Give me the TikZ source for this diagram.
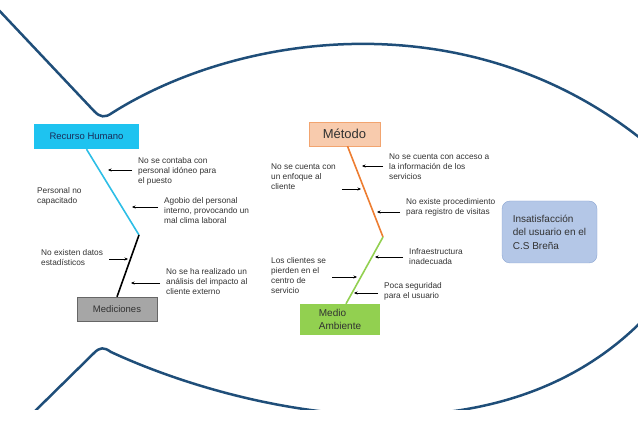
\documentclass[tikz,border=0pt]{standalone}
\usepackage{fontspec}
\setmainfont{Liberation Sans}
\usetikzlibrary{positioning,arrows.meta}

\definecolor{fishblue}{RGB}{31,78,121}
\definecolor{rhcyan}{RGB}{30,195,240}
\definecolor{rhline}{RGB}{45,190,230}
\definecolor{rhtext}{RGB}{25,45,90}
\definecolor{metfill}{RGB}{248,203,173}
\definecolor{metline}{RGB}{237,125,49}
\definecolor{mafill}{RGB}{146,208,80}
\definecolor{medfill}{RGB}{166,166,166}
\definecolor{goalfill}{RGB}{180,199,231}
\definecolor{goalline}{RGB}{140,165,210}
\definecolor{labeltext}{RGB}{50,50,50}

\begin{document}
\begin{tikzpicture}[x=1pt,y=-1pt,
  fish/.style={draw=fishblue,line width=2.5pt},
  cat/.style={rectangle,inner sep=0pt,text=labeltext,font=\fontsize{9.5}{11}\selectfont},
  cause/.style={align=left,anchor=west,inner sep=0pt,text=labeltext,font=\fontsize{8.3}{10}\selectfont},
  arr/.style={-{Stealth[length=3.5pt,width=3pt]},line width=0.5pt,shorten <=6pt},
  bone/.style={line width=1.6pt}]
  \useasboundingbox (0,0) rectangle (638,422);
  \begin{scope}
    \clip (0,0) rectangle (638,410);
    \draw[fish] (-6,5) -- (94,111) .. controls (100,117.5) and (105,118) .. (112,113) .. controls (240,32) and (470,0) .. (645,142);
    \draw[fish] (30,416) -- (94,353) .. controls (100,347) and (104,347) .. (111,352) .. controls (225,405) and (490,478) .. (645,318);
  \end{scope}

  \node[cat,fill=rhcyan,text=rhtext,minimum width=105pt,minimum height=25pt] (rh) at (86.5,136.5) {Recurso Humano};
  \node[cat,fill=medfill,draw=gray!80!black,minimum width=80pt,minimum height=24pt] (med) at (117,309) {Mediciones};
  \node[cat,fill=metfill,draw=metline!70,minimum width=71pt,minimum height=24pt,font=\fontsize{13}{15}\selectfont] (met) at (344.5,134) {Método};
  \node[cat,fill=mafill,minimum width=80pt,minimum height=31pt,align=left,font=\fontsize{10}{13}\selectfont] (ma) at (340,319.5) {Medio\\Ambiente};
  \node[cat,fill=goalfill,draw=goalline,rounded corners=8pt,minimum width=95pt,minimum height=62pt,align=left,font=\fontsize{10}{13.5}\selectfont] (goal) at (549.5,232) {Insatisfacción\\del usuario en el\\C.S Breña};

  \coordinate (j1) at (139,235);
  \coordinate (j2) at (383,237);
  \draw[bone,draw=rhline] (rh.south) -- (j1);
  \draw[bone] (j1) -- (med.north);
  \draw[bone,draw=metline] ([xshift=3pt]met.south) -- (j2);
  \draw[bone,draw=mafill] (j2) -- ([xshift=6pt]ma.north);

  \node[cause] (c1) at (138,171) {No se contaba con\\personal idóneo para\\el puesto};
  \node[cause] (c2) at (37,196) {Personal no\\capacitado};
  \node[cause] (c3) at (164,211) {Agobio del personal\\interno, provocando un\\mal clima laboral};
  \node[cause] (c4) at (41,258) {No existen datos\\estadísticos};
  \node[cause] (c5) at (166,282) {No se ha realizado un\\análisis del impacto al\\cliente externo};
  \node[cause] (c6) at (389,167) {No se cuenta con acceso a\\la información de los\\servicios};
  \node[cause] (c7) at (271,177) {No se cuenta con\\un enfoque al\\cliente};
  \node[cause] (c8) at (406,207) {No existe procedimiento\\para registro de visitas};
  \node[cause] (c9) at (409,257) {Infraestructura\\inadecuada};
  \node[cause] (c10) at (271,276) {Los clientes se\\pierden en el\\centro de\\servicio};
  \node[cause] (c11) at (384,291) {Poca seguridad\\para el usuario};

  \coordinate (t1) at (108,170);
  \coordinate (t3) at (132,207);
  \coordinate (t4) at (128,259);
  \coordinate (t5) at (131,283);
  \coordinate (t6) at (362,166);
  \coordinate (t7) at (361,189);
  \coordinate (t8) at (377,212);
  \coordinate (t9) at (375,257);
  \coordinate (t10) at (357,277);
  \coordinate (t11) at (354,293);

  \draw[arr] (c1.west |- t1) -- (t1);
  \draw[arr] (c3.west |- t3) -- (t3);
  \draw[arr] (c4.east |- t4) -- (t4);
  \draw[arr] (c5.west |- t5) -- (t5);
  \draw[arr] (c6.west |- t6) -- (t6);
  \draw[arr] (c7.east |- t7) -- (t7);
  \draw[arr] (c8.west |- t8) -- (t8);
  \draw[arr] (c9.west |- t9) -- (t9);
  \draw[arr] (c10.east |- t10) -- (t10);
  \draw[arr] (c11.west |- t11) -- (t11);
\end{tikzpicture}
\end{document}
